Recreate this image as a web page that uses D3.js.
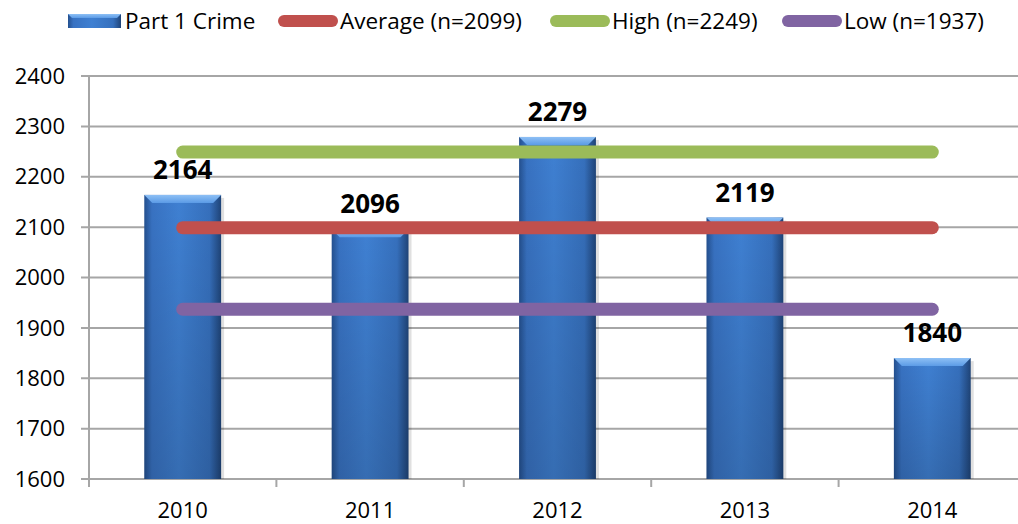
<!DOCTYPE html>
<html>
<head>
<meta charset="utf-8">
<script src="https://cdn.jsdelivr.net/npm/d3@7"></script>
<style>
  body { margin: 0; background: #fff; }
  svg { display: block; font-family: "Open Sans", sans-serif; }
</style>
</head>
<body>
<svg id="chart" width="1018" height="524"></svg>
<script>
// data
var years = ["2010", "2011", "2012", "2013", "2014"];
var crimes = [2164, 2096, 2279, 2119, 1840];
var refNames = ["Average (n=2099)", "High (n=2249)", "Low (n=1937)"];
var refValues = [2099, 2249, 1937];
var refColors = ["#c0504d", "#9bbb59", "#8064a2"];
var yTicks = [1600, 1700, 1800, 1900, 2000, 2100, 2200, 2300, 2400];

var svg = d3.select("#chart");
var margin = {left: 89, right: -8, top: 76, bottom: 45};
var width = 1018 - margin.left - margin.right,
    height = 524 - margin.top - margin.bottom;

var x = d3.scaleBand().domain(years).range([0, width]).paddingInner(0.59).paddingOuter(0.295);
var y = d3.scaleLinear().domain([1600, 2400]).range([height, 0]);

var defs = svg.append("defs");
var grad = defs.append("linearGradient").attr("id", "barGrad")
    .attr("x1", "0%").attr("x2", "100%").attr("y1", "0%").attr("y2", "0%");
grad.append("stop").attr("offset", "0%").attr("stop-color", "#24508f");
grad.append("stop").attr("offset", "10%").attr("stop-color", "#3872c2");
grad.append("stop").attr("offset", "45%").attr("stop-color", "#3f80d2");
grad.append("stop").attr("offset", "85%").attr("stop-color", "#3670bd");
grad.append("stop").attr("offset", "100%").attr("stop-color", "#1f4478");
var shade = defs.append("linearGradient").attr("id", "barShade")
    .attr("x1", "0%").attr("x2", "0%").attr("y1", "0%").attr("y2", "100%");
shade.append("stop").attr("offset", "0%").attr("stop-color", "#000").attr("stop-opacity", 0);
shade.append("stop").attr("offset", "100%").attr("stop-color", "#000").attr("stop-opacity", 0.15);
var bevel = defs.append("linearGradient").attr("id", "bevelGrad")
    .attr("x1", "0%").attr("x2", "0%").attr("y1", "0%").attr("y2", "100%");
bevel.append("stop").attr("offset", "0%").attr("stop-color", "#8ec0f5");
bevel.append("stop").attr("offset", "100%").attr("stop-color", "#5b9be6");

var g = svg.append("g").attr("transform", "translate(" + margin.left + "," + margin.top + ")");

// gridlines
g.append("g").selectAll("line").data(yTicks).enter().append("line")
    .attr("x1", -8).attr("x2", width)
    .attr("y1", function(d) { return y(d); })
    .attr("y2", function(d) { return y(d); })
    .attr("stroke", "#a6a6a6").attr("stroke-width", 2);

// y axis line
g.append("line").attr("x1", 0).attr("x2", 0).attr("y1", 0).attr("y2", height + 8)
    .attr("stroke", "#a6a6a6").attr("stroke-width", 2);

// category ticks
var step = x.step();
g.append("g").selectAll("line").data(years.slice(1)).enter().append("line")
    .attr("x1", function(d) { return x(d) - x.paddingInner() * step / 2; })
    .attr("x2", function(d) { return x(d) - x.paddingInner() * step / 2; })
    .attr("y1", height).attr("y2", height + 8)
    .attr("stroke", "#a6a6a6").attr("stroke-width", 2);

// y labels
g.append("g").selectAll("text").data(yTicks).enter().append("text")
    .attr("x", -24).attr("y", function(d) { return y(d); })
    .attr("dy", "0.35em").attr("text-anchor", "end")
    .attr("font-size", 22).attr("fill", "#000")
    .text(function(d) { return d; });

// x labels
g.append("g").selectAll("text").data(years).enter().append("text")
    .attr("x", function(d) { return x(d) + x.bandwidth() / 2; })
    .attr("y", height + 39)
    .attr("text-anchor", "middle").attr("font-size", 22).attr("fill", "#000")
    .text(function(d) { return d; });

// bars
var bw = x.bandwidth(), bv = 8;
var bars = g.append("g").selectAll("g").data(crimes).enter().append("g");
bars.append("rect")
    .attr("x", function(d, i) { return x(years[i]) + 3; })
    .attr("y", function(d) { return y(d) + 3; })
    .attr("width", bw).attr("height", function(d) { return height - y(d) - 3; })
    .attr("fill", "#000").attr("opacity", 0.12);
bars.append("rect")
    .attr("x", function(d, i) { return x(years[i]); })
    .attr("y", function(d) { return y(d); })
    .attr("width", bw).attr("height", function(d) { return height - y(d); })
    .attr("fill", "url(#barGrad)");
bars.append("rect")
    .attr("x", function(d, i) { return x(years[i]); })
    .attr("y", function(d) { return y(d); })
    .attr("width", bw).attr("height", function(d) { return height - y(d); })
    .attr("fill", "url(#barShade)");
bars.append("path")
    .attr("d", function(d, i) {
        var x0 = x(years[i]), y0 = y(d);
        return "M" + x0 + "," + y0 + "L" + (x0 + bw) + "," + y0 +
            "L" + (x0 + bw - bv) + "," + (y0 + bv) + "L" + (x0 + bv) + "," + (y0 + bv) + "Z";
    })
    .attr("fill", "url(#bevelGrad)");

// reference lines
g.append("g").selectAll("line").data(refValues).enter().append("line")
    .attr("x1", x(years[0]) + bw / 2)
    .attr("x2", x(years[years.length - 1]) + bw / 2)
    .attr("y1", function(d) { return y(d); })
    .attr("y2", function(d) { return y(d); })
    .attr("stroke", function(d, i) { return refColors[i]; })
    .attr("stroke-width", 13).attr("stroke-linecap", "round");

// value labels
g.append("g").selectAll("text").data(crimes).enter().append("text")
    .attr("x", function(d, i) { return x(years[i]) + bw / 2; })
    .attr("y", function(d) { return y(d) - 16; })
    .attr("text-anchor", "middle").attr("font-size", 26).attr("font-weight", "bold")
    .attr("fill", "#000")
    .text(function(d) { return d; });

// legend
var leg = svg.append("g");
leg.append("rect").attr("x", 68).attr("y", 14).attr("width", 53).attr("height", 14)
    .attr("fill", "url(#barGrad)");
leg.append("path").attr("d", "M68,14L121,14L117,18L72,18Z").attr("fill", "url(#bevelGrad)");
leg.append("text").attr("x", 125).attr("y", 21).attr("dy", "0.35em")
    .attr("font-size", 22.5).text("Part 1 Crime");
var legX = [278, 550, 782];
refNames.forEach(function(name, i) {
    leg.append("line").attr("x1", legX[i] + 6).attr("x2", legX[i] + 54)
        .attr("y1", 21).attr("y2", 21)
        .attr("stroke", refColors[i]).attr("stroke-width", 12).attr("stroke-linecap", "round");
    leg.append("text").attr("x", legX[i] + 62).attr("y", 21).attr("dy", "0.35em")
        .attr("font-size", 22.5).text(name);
});
</script>
</body>
</html>
